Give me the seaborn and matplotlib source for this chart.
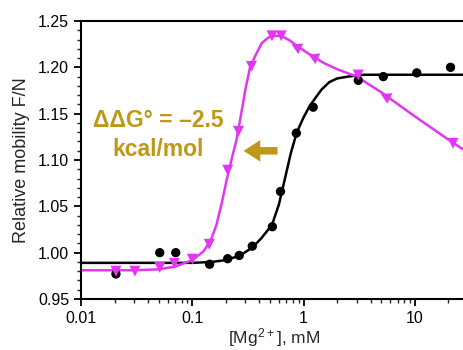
import matplotlib
matplotlib.use("Agg")
import matplotlib.pyplot as plt
import matplotlib.ticker as mticker
import pandas as pd
import seaborn as sns

# measured points (black circles = reference, magenta triangles = variant)
mg_black = [0.0206, 0.051, 0.071, 0.143, 0.208, 0.264, 0.346, 0.524, 0.62, 0.86, 1.22, 3.1, 5.2, 10.4, 20.9]
mob_black = [0.977, 1.000, 1.000, 0.9875, 0.9935, 0.997, 1.007, 1.028, 1.066, 1.129, 1.157, 1.186, 1.190, 1.194, 1.200]

mg_magenta = [0.0206, 0.0305, 0.051, 0.069, 0.1, 0.142, 0.208, 0.26, 0.34, 0.52, 0.63, 0.885, 1.26, 3.1, 5.6, 22]
mob_magenta = [0.980, 0.980, 0.984, 0.9885, 0.993, 1.009, 1.089, 1.131, 1.201, 1.234, 1.234, 1.2216, 1.2108, 1.1917, 1.168, 1.118]

# fitted curves
fit_mg_black = [0.01, 0.05, 0.1, 0.15, 0.2, 0.27, 0.35, 0.42, 0.52, 0.6, 0.68, 0.77, 0.87, 1.0,
                1.13, 1.26, 1.45, 1.7, 2.0, 2.5, 3.5, 6, 30]
fit_mob_black = [0.989, 0.989, 0.989, 0.990, 0.992, 0.997, 1.006, 1.016, 1.030, 1.052, 1.080, 1.108, 1.130, 1.146,
                 1.158, 1.166, 1.176, 1.184, 1.188, 1.190, 1.192, 1.192, 1.192]

fit_mg_magenta = [0.01, 0.03, 0.05, 0.07, 0.1, 0.125, 0.145, 0.165, 0.185, 0.205, 0.23, 0.25, 0.275, 0.30,
                  0.33, 0.37, 0.42, 0.48, 0.55, 0.63, 0.75, 0.9, 1.1, 1.5, 2.0, 3.0, 5.0, 10, 20, 30]
fit_mob_magenta = [0.981, 0.981, 0.982, 0.985, 0.992, 1.001, 1.012, 1.030, 1.055, 1.080, 1.105, 1.122, 1.150, 1.176,
                   1.200, 1.213, 1.226, 1.232, 1.234, 1.234, 1.229, 1.222, 1.215, 1.205, 1.198, 1.190, 1.173, 1.147,
                   1.122, 1.108]

x_ticks = [0.01, 0.1, 1, 10]
x_ticklabels = ["0.01", "0.1", "1", "10"]
y_ticks = [0.95, 1.00, 1.05, 1.10, 1.15, 1.20, 1.25]

MAGENTA = "#E236F0"
GOLD = "#BF9818"

# some triangles in the original are turned to follow the falling line
tilted = {0.885, 1.26, 5.6}

sns.set_theme(style="ticks")
plt.rcParams["font.family"] = ["Liberation Sans", "DejaVu Sans"]
plt.rcParams["mathtext.default"] = "regular"

fig = plt.figure(figsize=(4.63, 3.5), dpi=100)
ax = fig.add_axes([81 / 463, 51 / 350, 387 / 463, 278 / 350])

black_fit = pd.DataFrame({"mg": fit_mg_black, "mob": fit_mob_black})
magenta_fit = pd.DataFrame({"mg": fit_mg_magenta, "mob": fit_mob_magenta})
sns.lineplot(data=black_fit, x="mg", y="mob", color="black", lw=1.8, ax=ax, sort=False)
sns.lineplot(data=magenta_fit, x="mg", y="mob", color=MAGENTA, lw=1.8, ax=ax, sort=False)

black_pts = pd.DataFrame({"mg": mg_black, "mob": mob_black})
magenta_pts = pd.DataFrame({"mg": mg_magenta, "mob": mob_magenta})
is_tilted = magenta_pts["mg"].isin(tilted)

sns.scatterplot(data=black_pts, x="mg", y="mob", color="black", marker="o", s=45,
                edgecolor="none", ax=ax, zorder=3)
sns.scatterplot(data=magenta_pts[~is_tilted], x="mg", y="mob", color=MAGENTA, marker="v", s=62,
                edgecolor="none", ax=ax, zorder=3)
sns.scatterplot(data=magenta_pts[is_tilted], x="mg", y="mob", color=MAGENTA, marker=(3, 0, 65), s=95,
                edgecolor="none", ax=ax, zorder=3)

ax.set_xscale("log")
ax.set_xlim(0.01, 30)
ax.set_ylim(0.95, 1.25)
ax.set_xticks(x_ticks)
ax.set_xticklabels(x_ticklabels)
ax.xaxis.set_minor_locator(mticker.LogLocator(base=10, subs=range(2, 10)))
ax.xaxis.set_minor_formatter(mticker.NullFormatter())
ax.set_yticks(y_ticks)
ax.yaxis.set_major_formatter(mticker.FormatStrFormatter("%.2f"))
ax.yaxis.set_minor_locator(mticker.MultipleLocator(0.01))

for side in ["left", "bottom", "top", "right"]:
    ax.spines[side].set_linewidth(1.5)
    ax.spines[side].set_color("black")
ax.tick_params(which="major", direction="out", length=5, width=1.3, labelsize=11.5, colors="black")
ax.tick_params(which="minor", direction="out", length=3, width=1.0)

ax.set_xlabel("[Mg$^{2+}$], mM", fontsize=12.5, labelpad=0)
ax.set_ylabel("Relative mobility F/N", fontsize=13, labelpad=6)

ax.text(0.199, 0.59, "ΔΔG° = –2.5\nkcal/mol", transform=ax.transAxes, ha="center", va="center",
        fontsize=16.5, fontweight="bold", color=GOLD, linespacing=1.3)
ax.annotate("", xy=(0.413, 0.533), xytext=(0.515, 0.533), xycoords="axes fraction",
            arrowprops=dict(arrowstyle="simple,head_width=1.3,head_length=1.0,tail_width=0.45",
                            mutation_scale=12, color=GOLD, lw=0))

fig.savefig("out.png", dpi=100)
